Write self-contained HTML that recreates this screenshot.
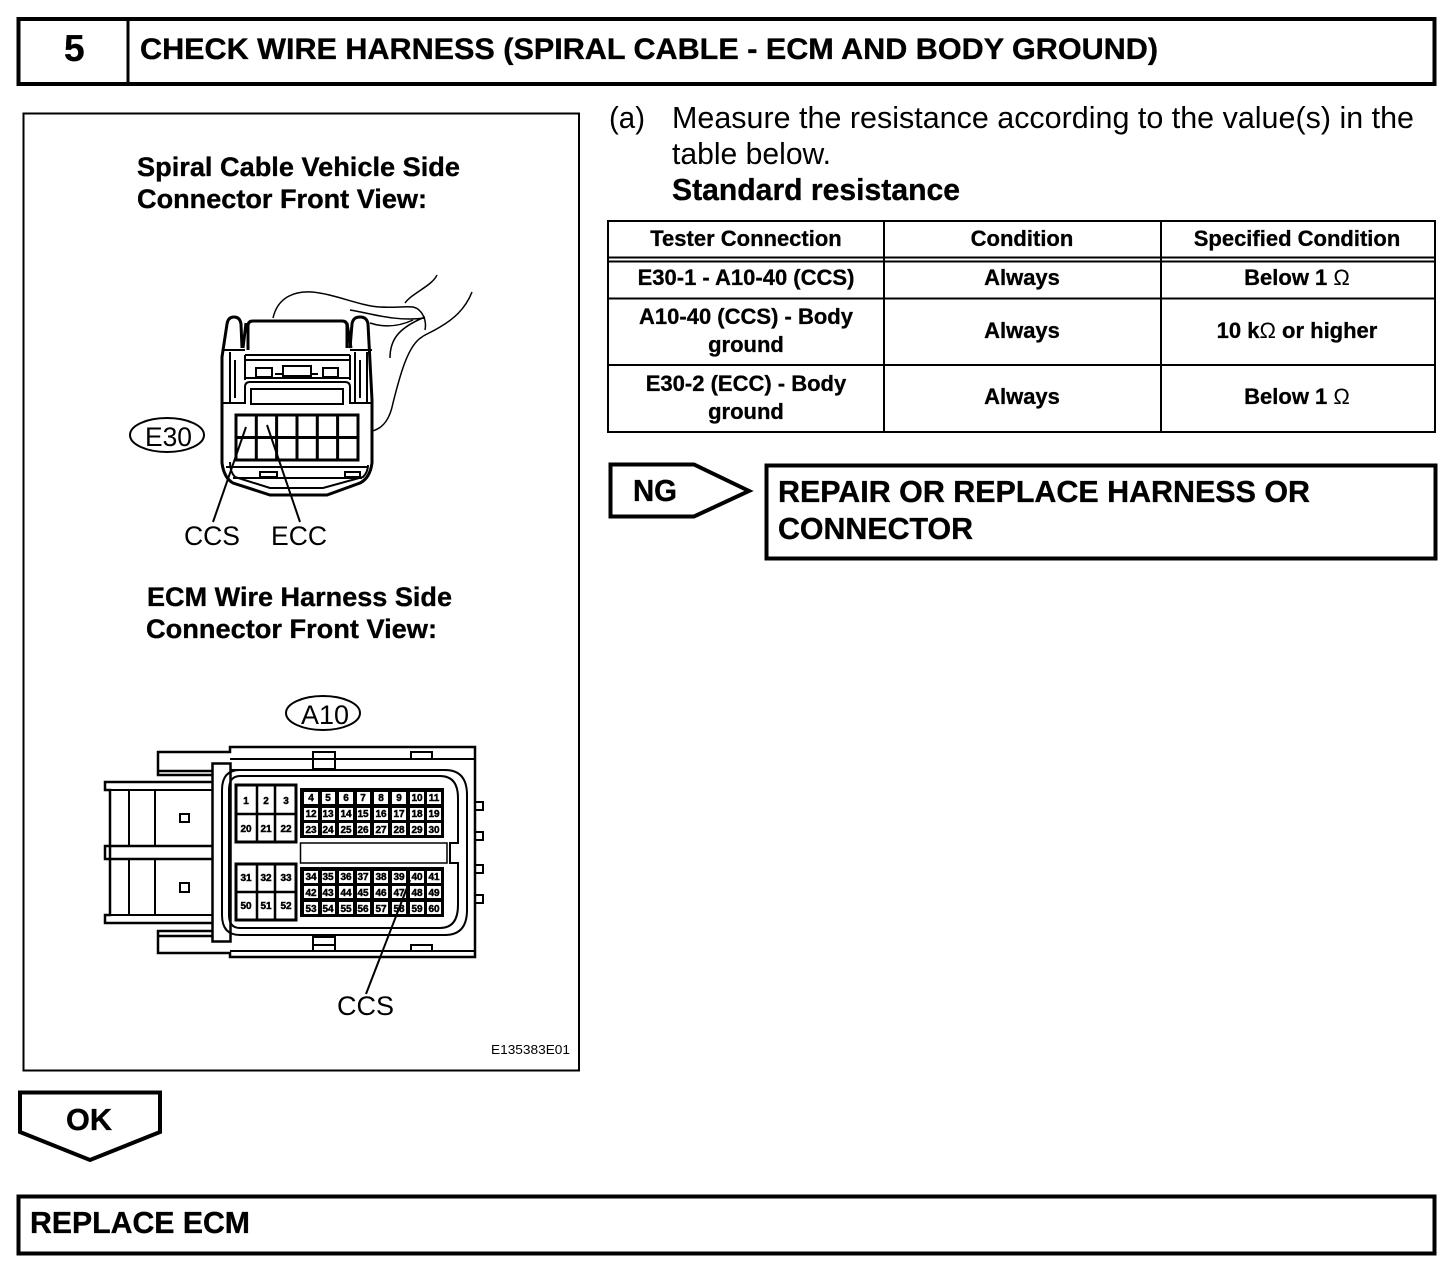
<!DOCTYPE html>
<html>
<head>
<meta charset="utf-8">
<style>
html,body{margin:0;padding:0;background:#fff}
svg{display:block}
text{font-family:"Liberation Sans",sans-serif;fill:#000}
.b{font-weight:bold;stroke:#000;stroke-width:.35}
.n{font-weight:bold;font-size:10px;text-anchor:middle;stroke:#000;stroke-width:.45}
.t{font-weight:bold;font-size:22px;text-anchor:middle;stroke:#000;stroke-width:.3}
.l{fill:none;stroke:#000;stroke-width:2}
.m{fill:none;stroke:#000;stroke-width:2.5}
.h{fill:none;stroke:#000;stroke-width:4}
</style>
</head>
<body>
<svg width="1456" height="1272" viewBox="0 0 1456 1272" xmlns="http://www.w3.org/2000/svg">
<rect width="1456" height="1272" fill="#fff"/>

<!-- header -->
<rect class="h" x="18.500" y="19" width="1416" height="65"/>
<path class="m" stroke-width="3" style="stroke-width:3" d="M128 19V84"/>
<text class="b" x="64" y="61" font-size="37" textLength="20">5</text>
<text class="b" x="140" y="59" font-size="30" textLength="1018" lengthAdjust="spacingAndGlyphs">CHECK WIRE HARNESS (SPIRAL CABLE - ECM AND BODY GROUND)</text>

<!-- illustration frame -->
<rect x="23.500" y="113.500" width="555.500" height="957" fill="none" stroke="#000" stroke-width="2"/>
<text class="b" x="137" y="176" font-size="27" textLength="323" lengthAdjust="spacingAndGlyphs">Spiral Cable Vehicle Side</text>
<text class="b" x="137" y="208" font-size="27" textLength="290" lengthAdjust="spacingAndGlyphs">Connector Front View:</text>
<text class="b" x="147" y="606" font-size="27" textLength="305" lengthAdjust="spacingAndGlyphs">ECM Wire Harness Side</text>
<text class="b" x="146" y="638" font-size="27" textLength="291" lengthAdjust="spacingAndGlyphs">Connector Front View:</text>

<!-- E30 wires -->
<g style="stroke-width:1.500" fill="none" stroke="#000">
<path d="M273 318C278 296 296 291 312 292C335 294 360 306 380 307C395 308 405 306 413 307C422 309 427 320 425 330"/>
<path d="M405 303C412 293 432 286 437 275"/>
<path d="M472 292C465 310 452 320 440 327C432 332 424 335 422 337C408 345 400 375 393 403C390 418 384 428 372 431"/>
<path d="M350 310C370 313 395 322 425 318"/>
<path d="M370 323C385 328 400 326 413 320"/>
<path d="M390 358C390 340 398 328 425 317"/>
</g>

<!-- E30 body -->
<g fill="none" stroke="#000" stroke-width="3">
<path d="M242 348L241 324Q240 317 234 317Q228 317 227 324L222 357V463Q224 478 233 483L270 495H327L360 483Q370 478 372 463V400L368 324Q367 317 360 317Q353 317 352 324L350 348"/>
<path d="M248 350V326Q248 321 253 321H342Q347 321 347 326V348"/>
<path d="M243 348L246 323M347 323L351 348"/>
</g>
<path class="l" d="M222 350H245M230 352V402M235 360V398M245 355V380M245 355H350M245 360H350M350 355V380M350 350H372M355 352V402M367 352V402M360 360V398"/>
<path class="l" d="M223 403H245V387Q245 382 250 382H345Q350 382 350 387V403H371"/>
<path class="l" d="M245 378H350"/>
<rect class="l" x="251" y="389" width="92" height="15"/>
<rect class="l" x="256" y="368" width="16" height="9"/>
<rect class="l" x="323" y="368" width="15" height="9"/>
<rect class="l" x="283" y="366" width="28" height="10"/>
<path class="l" d="M275 374H283M311 374H318"/>
<path class="l" d="M230 462Q230 472 235 477L270 488H323L363 477Q368 472 368 465M233 478H362M226 467H368"/>
<rect class="l" x="260" y="472" width="17" height="5"/>
<rect class="l" x="345" y="472" width="15" height="5"/>
<!-- E30 grid -->
<g fill="none" stroke="#000" stroke-width="3">
<rect x="236" y="415" width="122" height="45"/>
<path d="M256.300 415V460M276.600 415V460M297 415V460M317.300 415V460M337.600 415V460M236 437.500H358"/>
</g>
<path fill="none" stroke="#000" stroke-width="2" d="M246 427L213 522M267 425L300 522"/>

<ellipse cx="167" cy="435" rx="37" ry="17" fill="none" stroke="#000" stroke-width="2"/>
<text x="145" y="446" font-size="27" textLength="47" lengthAdjust="spacingAndGlyphs">E30</text>
<text x="184" y="545" font-size="27" textLength="56" lengthAdjust="spacingAndGlyphs">CCS</text>
<text x="271" y="545" font-size="27" textLength="56" lengthAdjust="spacingAndGlyphs">ECC</text>

<!-- A10 -->
<ellipse cx="323" cy="713" rx="37" ry="17" fill="none" stroke="#000" stroke-width="2"/>
<text x="301" y="724" font-size="27" textLength="48" lengthAdjust="spacingAndGlyphs">A10</text>

<g fill="none" stroke="#000" stroke-width="2.500">
<path d="M212 775H158V752H230V747H475V957H230V953H158V931H212"/>
<path d="M158 771H212M158 936H212"/>
<rect x="212.500" y="763.500" width="18" height="178"/>
<path d="M212 782H105V790H110V915H105V923H212"/>
<path d="M212 846H105V859H212"/>
</g>
<path class="l" d="M110 790H212M110 915H212M230 759H475M230 951H475"/>
<path fill="none" stroke="#000" stroke-width="2" d="M129 790V846M155 790V846M129 859V915M155 859V915"/>
<rect x="180" y="814" width="9" height="8" fill="none" stroke="#000" stroke-width="2"/>
<rect x="180" y="883" width="9" height="9" fill="none" stroke="#000" stroke-width="2"/>

<g fill="none" stroke="#000" stroke-width="2">
<path d="M230 770H445Q467 770 467 795V910Q467 935 445 935H240Q222 935 222 915V790Q222 770 240 770"/>
<path d="M240 776H440Q458 776 458 798V843H450V863H458V905Q458 928 440 928H240Q229 928 229 915V790Q229 776 240 776"/>
<path d="M475 802H483V810H475M475 832H483V840H475M475 865H483V873H475M475 895H483V903H475"/>
<path d="M313 759V752H335V759M313 769H335M313 759V769M335 759V769M411 759V752H432V759"/>
<path d="M313 951V937H335V951M313 945H335M411 951V945H432V951"/>
</g>

<!-- left pin blocks -->
<g fill="none" stroke="#000" stroke-width="3">
<rect x="236" y="785" width="60" height="57"/>
<rect x="236" y="864" width="60" height="56"/>
</g>
<path fill="none" stroke="#000" stroke-width="2.500" d="M257 785V842M275 785V842M236 814H296M257 864V920M275 864V920M236 892H296"/>
<text class="n" x="246" y="804">1</text><text class="n" x="266" y="804">2</text><text class="n" x="286" y="804">3</text>
<text class="n" x="246" y="832">20</text><text class="n" x="266" y="832">21</text><text class="n" x="286" y="832">22</text>
<text class="n" x="246" y="881">31</text><text class="n" x="266" y="881">32</text><text class="n" x="286" y="881">33</text>
<text class="n" x="246" y="909">50</text><text class="n" x="266" y="909">51</text><text class="n" x="286" y="909">52</text>

<!-- right pin blocks -->
<rect x="300" y="788" width="144" height="50" fill="#000"/>
<rect x="300" y="867" width="144" height="50" fill="#000"/>
<g fill="#fff">
<rect x="304" y="792" width="14" height="12"/><rect x="322" y="792" width="13" height="12"/><rect x="339" y="792" width="14" height="12"/><rect x="357" y="792" width="13" height="12"/><rect x="374" y="792" width="14" height="12"/><rect x="392" y="792" width="14" height="12"/><rect x="410" y="792" width="14" height="12"/><rect x="427" y="792" width="14" height="12"/>
<rect x="304" y="808" width="14" height="12"/><rect x="322" y="808" width="13" height="12"/><rect x="339" y="808" width="14" height="12"/><rect x="357" y="808" width="13" height="12"/><rect x="374" y="808" width="14" height="12"/><rect x="392" y="808" width="14" height="12"/><rect x="410" y="808" width="14" height="12"/><rect x="427" y="808" width="14" height="12"/>
<rect x="304" y="823" width="14" height="12"/><rect x="322" y="823" width="13" height="12"/><rect x="339" y="823" width="14" height="12"/><rect x="357" y="823" width="13" height="12"/><rect x="374" y="823" width="14" height="12"/><rect x="392" y="823" width="14" height="12"/><rect x="410" y="823" width="14" height="12"/><rect x="427" y="823" width="14" height="12"/>
<rect x="304" y="871" width="14" height="12"/><rect x="322" y="871" width="13" height="12"/><rect x="339" y="871" width="14" height="12"/><rect x="357" y="871" width="13" height="12"/><rect x="374" y="871" width="14" height="12"/><rect x="392" y="871" width="14" height="12"/><rect x="410" y="871" width="14" height="12"/><rect x="427" y="871" width="14" height="12"/>
<rect x="304" y="886" width="14" height="12"/><rect x="322" y="886" width="13" height="12"/><rect x="339" y="886" width="14" height="12"/><rect x="357" y="886" width="13" height="12"/><rect x="374" y="886" width="14" height="12"/><rect x="392" y="886" width="14" height="12"/><rect x="410" y="886" width="14" height="12"/><rect x="427" y="886" width="14" height="12"/>
<rect x="304" y="902" width="14" height="12"/><rect x="322" y="902" width="13" height="12"/><rect x="339" y="902" width="14" height="12"/><rect x="357" y="902" width="13" height="12"/><rect x="374" y="902" width="14" height="12"/><rect x="392" y="902" width="14" height="12"/><rect x="410" y="902" width="14" height="12"/><rect x="427" y="902" width="14" height="12"/>
</g>
<text class="n" x="311" y="801">4</text><text class="n" x="328" y="801">5</text><text class="n" x="346" y="801">6</text><text class="n" x="363" y="801">7</text><text class="n" x="381" y="801">8</text><text class="n" x="399" y="801">9</text><text class="n" x="417" y="801">10</text><text class="n" x="434" y="801">11</text>
<text class="n" x="311" y="817">12</text><text class="n" x="328" y="817">13</text><text class="n" x="346" y="817">14</text><text class="n" x="363" y="817">15</text><text class="n" x="381" y="817">16</text><text class="n" x="399" y="817">17</text><text class="n" x="417" y="817">18</text><text class="n" x="434" y="817">19</text>
<text class="n" x="311" y="833">23</text><text class="n" x="328" y="833">24</text><text class="n" x="346" y="833">25</text><text class="n" x="363" y="833">26</text><text class="n" x="381" y="833">27</text><text class="n" x="399" y="833">28</text><text class="n" x="417" y="833">29</text><text class="n" x="434" y="833">30</text>
<text class="n" x="311" y="880">34</text><text class="n" x="328" y="880">35</text><text class="n" x="346" y="880">36</text><text class="n" x="363" y="880">37</text><text class="n" x="381" y="880">38</text><text class="n" x="399" y="880">39</text><text class="n" x="417" y="880">40</text><text class="n" x="434" y="880">41</text>
<text class="n" x="311" y="896">42</text><text class="n" x="328" y="896">43</text><text class="n" x="346" y="896">44</text><text class="n" x="363" y="896">45</text><text class="n" x="381" y="896">46</text><text class="n" x="399" y="896">47</text><text class="n" x="417" y="896">48</text><text class="n" x="434" y="896">49</text>
<text class="n" x="311" y="912">53</text><text class="n" x="328" y="912">54</text><text class="n" x="346" y="912">55</text><text class="n" x="363" y="912">56</text><text class="n" x="381" y="912">57</text><text class="n" x="399" y="912">58</text><text class="n" x="417" y="912">59</text><text class="n" x="434" y="912">60</text>
<rect x="300.500" y="843" width="146.500" height="20" fill="none" stroke="#000" stroke-width="1.500"/>
<path fill="none" stroke="#000" stroke-width="2" d="M410 880L366 994"/>
<text x="337" y="1015" font-size="27" textLength="57" lengthAdjust="spacingAndGlyphs">CCS</text>
<text x="491" y="1054" font-size="13" textLength="79" lengthAdjust="spacingAndGlyphs">E135383E01</text>

<!-- right text -->
<text x="609" y="128" font-size="31" textLength="36" lengthAdjust="spacingAndGlyphs">(a)</text>
<text x="672" y="128" font-size="31" textLength="742" lengthAdjust="spacingAndGlyphs">Measure the resistance according to the value(s) in the</text>
<text x="672" y="164" font-size="31" textLength="159" lengthAdjust="spacingAndGlyphs">table below.</text>
<text class="b" x="672" y="200" font-size="31" textLength="288" lengthAdjust="spacingAndGlyphs">Standard resistance</text>

<!-- table -->
<rect x="608" y="221" width="827" height="211" fill="none" stroke="#000" stroke-width="2"/>
<path fill="none" stroke="#000" stroke-width="2" d="M884 221V432M1161 221V432M608 257.500H1435M608 261.500H1435M608 298.500H1435M608 365H1435"/>
<text class="t" x="746" y="246">Tester Connection</text>
<text class="t" x="1022" y="246">Condition</text>
<text class="t" x="1297" y="246">Specified Condition</text>
<text class="t" x="746" y="285">E30-1 - A10-40 (CCS)</text>
<text class="t" x="1022" y="285">Always</text>
<text class="t" x="1297" y="285">Below 1 <tspan font-weight="normal" style="stroke-width:0">Ω</tspan></text>
<text class="t" x="746" y="324">A10-40 (CCS) - Body</text>
<text class="t" x="746" y="352">ground</text>
<text class="t" x="1022" y="338">Always</text>
<text class="t" x="1297" y="338">10 k<tspan font-weight="normal" style="stroke-width:0">Ω</tspan> or higher</text>
<text class="t" x="746" y="391">E30-2 (ECC) - Body</text>
<text class="t" x="746" y="419">ground</text>
<text class="t" x="1022" y="404">Always</text>
<text class="t" x="1297" y="404">Below 1 <tspan font-weight="normal" style="stroke-width:0">Ω</tspan></text>

<!-- NG -->
<path class="h" d="M610.500 464.500H694L749 491L694 516.500H610.500Z"/>
<text class="b" x="633" y="501" font-size="31" textLength="44" lengthAdjust="spacingAndGlyphs">NG</text>
<rect class="h" x="766.500" y="465.500" width="669" height="93"/>
<text class="b" x="778" y="502" font-size="31" textLength="532" lengthAdjust="spacingAndGlyphs">REPAIR OR REPLACE HARNESS OR</text>
<text class="b" x="778" y="539" font-size="31" textLength="195" lengthAdjust="spacingAndGlyphs">CONNECTOR</text>

<!-- OK -->
<path class="h" d="M20 1092.500H160V1132L90 1160L20 1132Z"/>
<text class="b" x="66" y="1130" font-size="31" textLength="46" lengthAdjust="spacingAndGlyphs">OK</text>
<rect class="h" x="18.500" y="1196.500" width="1416" height="57"/>
<text class="b" x="30" y="1233" font-size="31" textLength="220" lengthAdjust="spacingAndGlyphs">REPLACE ECM</text>
</svg>
</body>
</html>
